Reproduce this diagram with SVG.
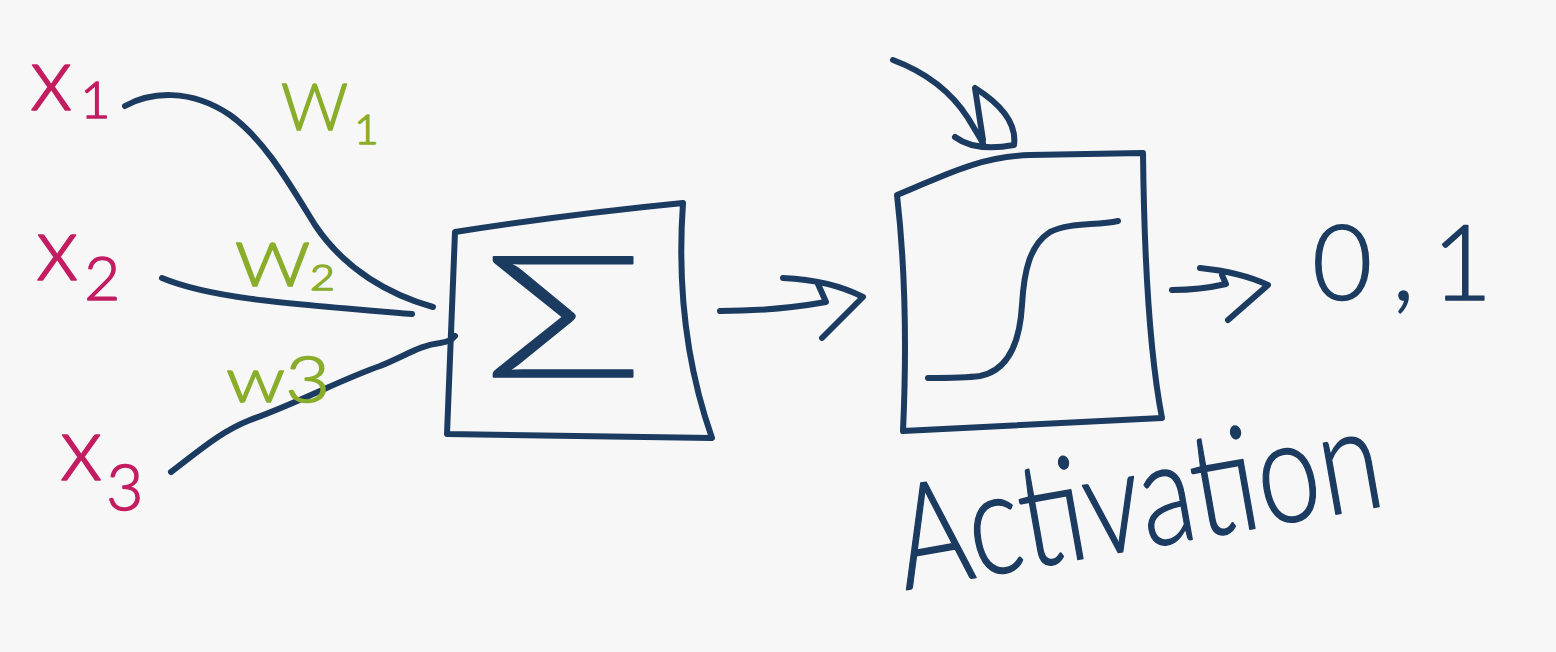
<svg xmlns="http://www.w3.org/2000/svg" width="1556" height="652" viewBox="0 0 1556 652">
<style>
.ink{fill:none;stroke:#1c3b60;stroke-width:6;stroke-linecap:round;stroke-linejoin:round}
.inkt{fill:#1c3b60;stroke:#1c3b60;stroke-width:1.5;stroke-linejoin:round;font-family:Lato,"Liberation Sans",Arial,sans-serif;font-weight:300}
.mag{fill:#c31d61;stroke:#c31d61;stroke-width:1.5;stroke-linejoin:round;font-family:Lato,"Liberation Sans",Arial,sans-serif;font-weight:300}
.grn{fill:#8aad2b;stroke:#8aad2b;stroke-width:1.5;stroke-linejoin:round;font-family:Lato,"Liberation Sans",Arial,sans-serif;font-weight:300}
</style>
<rect width="1556" height="652" fill="#f7f7f7"/>
<g id="connectors">
<path class="ink" d="M125,106 C150,92 190,88 230,115 C265,140 290,185 315,225 C345,270 390,295 433,307"/>
<path class="ink" d="M162,278 C210,298 280,303 412,314"/>
<path class="ink" d="M171,472 C200,450 220,432 250,420 C300,402 340,380 380,366 C405,356 420,345 440,343 C448,342 452,340 455,336"/>
<path class="ink" d="M720,311 Q775,311 826,302 L818,284 M783,278 Q830,280 863,297 L822,338"/>
<path class="ink" d="M1172,290 Q1200,290 1226,284 L1222,275 M1200,268 Q1240,272 1268,285 L1228,320"/>
<path class="ink" d="M893,60 C925,72 950,90 968,118 L983,143 M955,137 Q975,152 1014,145 Q1018,115 975,88 L983,140"/>
</g>
<g id="x1"><text class="mag" x="30" y="110" font-size="90">x<tspan font-size="52" dy="8" dx="8">1</tspan></text></g>
<g id="x2"><text class="mag" x="36" y="280" font-size="90">x<tspan font-size="62" dy="20" dx="6">2</tspan></text></g>
<g id="x3"><text class="mag" x="60" y="480" font-size="90">x<tspan font-size="64" dy="30" dx="4">3</tspan></text></g>
<g id="w1"><text class="grn" x="281" y="130" font-size="66">W<tspan font-size="42" dy="14" dx="6">1</tspan></text></g>
<g id="w2"><text class="grn" x="235" y="286" font-size="62" textLength="100" lengthAdjust="spacingAndGlyphs">W<tspan font-size="36" dy="4">2</tspan></text></g>
<g id="w3"><text class="grn" x="226" y="402" font-size="64" textLength="104" lengthAdjust="spacingAndGlyphs">w3</text></g>
<g id="sum">
<path class="ink" d="M455,232 Q570,214 683,203 Q674,330 712,438 L447,434 L455,232 Z"/>
<text class="inkt" x="484" y="377" font-size="170" textLength="160" lengthAdjust="spacingAndGlyphs">Σ</text>
</g>
<g id="activation">
<path class="ink" d="M897,195 C940,178 975,157 1030,155 L1143,153 Q1145,330 1162,418 L903,431 Q909,300 897,195 Z"/>
<path class="ink" d="M928,378 C945,378 965,378 980,376 C1010,370 1020,340 1022,305 C1024,270 1030,245 1050,232 C1070,222 1095,226 1118,221"/>
<text class="inkt" x="905" y="590" font-size="145" transform="rotate(-10 905 590)" textLength="490" lengthAdjust="spacingAndGlyphs">Activation</text>
</g>
<g id="output"><text class="inkt" font-size="104" y="300"><tspan x="1312">0</tspan><tspan x="1392">,</tspan><tspan x="1432">1</tspan></text></g>
</svg>
